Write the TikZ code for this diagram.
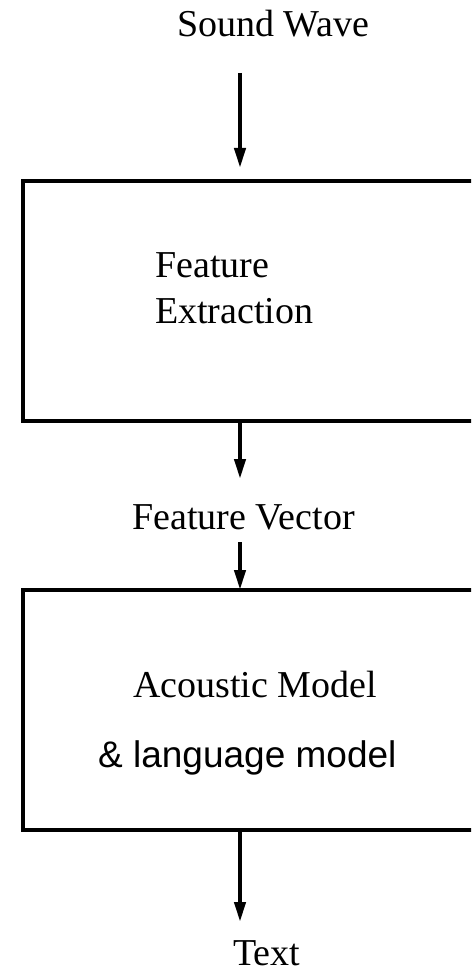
\documentclass[tikz,border=0pt]{standalone}
\usepackage{fontspec}
\setmainfont{Liberation Serif}
\newfontfamily\arialfont{Liberation Sans}
\usetikzlibrary{arrows.meta}
\tikzset{
  stage/.style={draw, line width=4.5pt, minimum width=#1, inner sep=0pt, outer sep=0pt},
  label/.style={anchor=base west, inner sep=0pt, font=\fontsize{38}{44}\selectfont},
  flow/.style={line width=4pt, -{Triangle[length=20pt,width=11pt]}}
}
\begin{document}
\begin{tikzpicture}[x=1pt,y=-1pt]
  \useasboundingbox (0,0) rectangle (471,976);
  \clip (0,0) rectangle (471,976);

  % processing stages (they run off the right edge)
  \node[stage=460pt, minimum height=240pt] (fe) at (253,301) {};
  \node[stage=460pt, minimum height=240pt] (am) at (253,710) {};

  % labels
  \node[label] (sw) at (177,37) {Sound Wave};
  \node[label] at (155,277) {Feature};
  \node[label] at (155,323) {Extraction};
  \node[label] (fv) at (132,529) {Feature Vector};
  \node[label] at (133,697) {Acoustic Model};
  \node[label, font=\arialfont\fontsize{37}{44}\selectfont] at (98,767) {\& language model};
  \node[label] (tx) at (233,965) {Text};

  % connector end points
  \coordinate (a1s) at (240,73);
  \coordinate (a1e) at (240,168);
  \coordinate (a2e) at (240,479);
  \coordinate (a3s) at (240,542);
  \coordinate (a4e) at (240,922);

  \draw[flow] (a1s) -- (a1e);
  \draw[flow] (fe.south -| a2e) -- (a2e);
  \draw[flow] (a3s) -- (am.north -| a3s);
  \draw[flow] (am.south -| a4e) -- (a4e);
\end{tikzpicture}
\end{document}
